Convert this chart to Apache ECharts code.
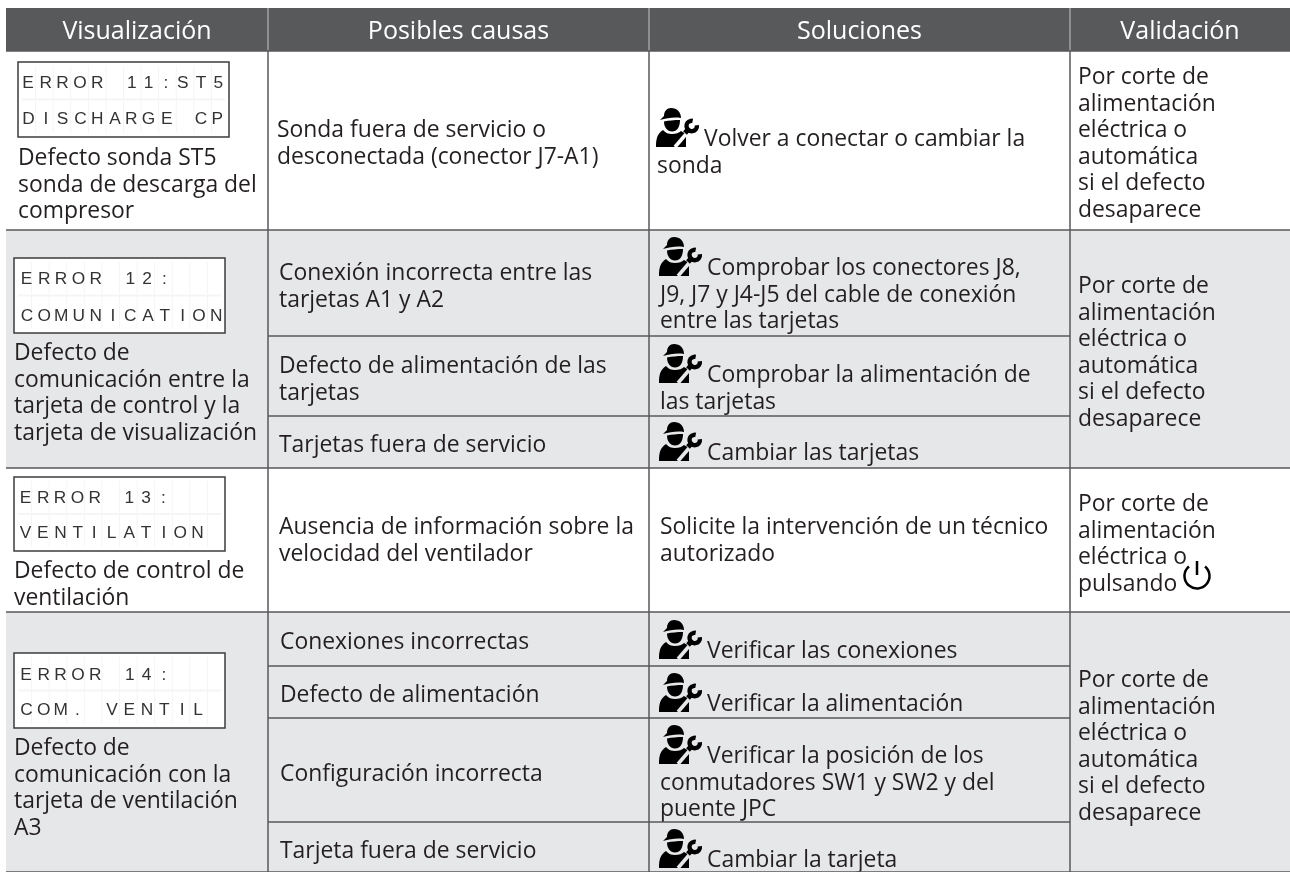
<!DOCTYPE html>
<html>
<head>
<meta charset="utf-8">
<style>
  html, body { margin: 0; padding: 0; background: #fff; }
  #chart { width: 1290px; height: 872px; }
</style>
<script src="https://cdn.jsdelivr.net/npm/echarts@6/dist/echarts.min.js"></script>
</head>
<body>
<div id="chart"></div>
<script>
// table content
const headers = ["Visualización", "Posibles causas", "Soluciones", "Validación"];
const lcdLines = [
  ["ERROR 11:ST5", "DISCHARGE CP"],
  ["ERROR 12:", "COMUNICATION"],
  ["ERROR 13:", "VENTILATION"],
  ["ERROR 14:", "COM. VENTIL"],
];
const faults = [
  ["Defecto sonda ST5", "sonda de descarga del", "compresor"],
  ["Defecto de", "comunicación entre la", "tarjeta de control y la", "tarjeta de visualización"],
  ["Defecto de control de", "ventilación"],
  ["Defecto de", "comunicación con la", "tarjeta de ventilación", "A3"],
];
const causes = [
  ["Sonda fuera de servicio o", "desconectada (conector J7-A1)"],
  ["Conexión incorrecta entre las", "tarjetas A1 y A2"],
  ["Defecto de alimentación de las", "tarjetas"],
  ["Tarjetas fuera de servicio"],
  ["Ausencia de información sobre la", "velocidad del ventilador"],
  ["Conexiones incorrectas"],
  ["Defecto de alimentación"],
  ["Configuración incorrecta"],
  ["Tarjeta fuera de servicio"],
];
const solutions = [
  ["Volver a conectar o cambiar la", "sonda"],
  ["Comprobar los conectores J8,", "J9, J7 y J4-J5 del cable de conexión", "entre las tarjetas"],
  ["Comprobar la alimentación de", "las tarjetas"],
  ["Cambiar las tarjetas"],
  ["Solicite la intervención de un técnico", "autorizado"],
  ["Verificar las conexiones"],
  ["Verificar la alimentación"],
  ["Verificar la posición de los", "conmutadores SW1 y SW2 y del", "puente JPC"],
  ["Cambiar la tarjeta"],
];
const solutionHasIcon = [true, true, true, true, false, true, true, true, true];
const validations = [
  ["Por corte de", "alimentación", "eléctrica o", "automática", "si el defecto", "desaparece"],
  ["Por corte de", "alimentación", "eléctrica o", "automática", "si el defecto", "desaparece"],
  ["Por corte de", "alimentación", "eléctrica o", "pulsando"],
  ["Por corte de", "alimentación", "eléctrica o", "automática", "si el defecto", "desaparece"],
];

// layout, in page pixels
const columnEdges = [6, 268, 649, 1070, 1290];
const headerTop = 8;
const headerBottom = 51;
const groupEdges = [51, 230, 468, 612, 872];
const subRowLines = [336, 416, 666, 718, 822];
const lcdBoxes = [[18, 62, 229, 137], [14, 258, 225, 333], [14, 477, 225, 551], [14, 653, 225, 728]];
const lcdFirstCentre = [28, 26.5, 25.5, 26];
const lcdBaselines = [[88, 124], [284, 321], [503, 538], [680, 715]];
const faultX = [18, 14, 14, 14];
const faultBaselines = [165, 360, 578, 755];
const causeX = [277, 279, 279, 279, 279, 280, 280, 280, 280];
const causeBaselines = [137, 280, 373, 452, 534, 649, 702, 781, 858];
const solutionX = [657, 660, 660, 660, 660, 660, 660, 660, 660];
const solutionBaselines = [146, 275, 382, 460, 534, 658, 711, 763, 867];
const validationX = 1078;
const validationBaselines = [84, 293, 511, 687];

const TEXT_FONT = '"Open Sans", sans-serif';
const TEXT_SIZE = 22.9;
const LINE_STEP = 26.5;
const LCD_FONT = '"Liberation Sans", sans-serif';
const LCD_SIZE = 16;
const LCD_STRETCH = 1.08;
const LCD_PITCH = 17.27;
const INK = "#231f20";
const DARK = "#58595b";
const GREY = "#e6e7e8";

// display glyphs sit on a fixed grid, so pad each one with hair spaces up to its cell
const measureCtx = document.createElement("canvas").getContext("2d");
function spaceToGrid(line) {
  measureCtx.font = `${LCD_SIZE}px ${LCD_FONT}`;
  const hair = measureCtx.measureText("\u200a").width;
  const pitch = LCD_PITCH / LCD_STRETCH;
  let out = "";
  let penX = 0;
  [...line].forEach((ch, i) => {
    const width = measureCtx.measureText(ch).width;
    const target = (i + 0.5) * pitch - width / 2;
    const pad = Math.max(0, Math.round((target - penX) / hair));
    out += "\u200a".repeat(pad) + ch;
    penX += pad * hair + width;
  });
  return out;
}

const cells = [];
const addRect = (x0, y0, x1, y1, fill, stroke, lineWidth) =>
  cells.push({ kind: "rect", x0, y0, x1, y1, fill, stroke, lineWidth });
const addLine = (x0, y0, x1, y1, stroke, lineWidth) =>
  cells.push({ kind: "line", x0, y0, x1, y1, stroke, lineWidth });
const addText = (x, y, text, opts) => cells.push({ kind: "text", x, y, text, ...opts });

// body fills
groupEdges.slice(1).forEach((bottom, i) => {
  addRect(columnEdges[0], groupEdges[i], 1290, bottom, i % 2 ? GREY : "#fff");
});

// header
addRect(columnEdges[0], headerTop, 1290, headerBottom, DARK);
headers.forEach((label, i) => {
  addText((columnEdges[i] + columnEdges[i + 1]) / 2, 39, label, { size: 25, fill: "#fff", align: "center" });
  if (i) addLine(columnEdges[i], headerTop, columnEdges[i], headerBottom, "#c4c5c7", 1);
});

// LCD displays
lcdBoxes.forEach((box, i) => {
  const [x0, y0, x1, y1] = box;
  addRect(x0, y0, x1, y1, "#fff");
  const pitch = (x1 - x0) / 12;
  const midY = (y0 + y1) / 2;
  for (let c = 1; c < 12; c++) addLine(x0 + c * pitch, y0 + 4, x0 + c * pitch, y1 - 4, "#f5f5f5", 1);
  addLine(x0 + 4, midY, x1 - 4, midY, "#f5f5f5", 2);
  addRect(x0, y0, x1, y1, null, "#3c3c3e", 1.5);
  lcdLines[i].forEach((line, l) => {
    addText(lcdFirstCentre[i] - LCD_PITCH / 2, lcdBaselines[i][l], spaceToGrid(line), {
      size: LCD_SIZE,
      font: LCD_FONT,
      fill: "#333",
      stretch: LCD_STRETCH,
    });
  });
});

// text columns
const addBlock = (x, firstBaseline, lines) =>
  lines.forEach((line, l) => addText(x, firstBaseline + l * LINE_STEP, line, {}));

faults.forEach((lines, i) => addBlock(faultX[i], faultBaselines[i], lines));
causes.forEach((lines, i) => addBlock(causeX[i], causeBaselines[i], lines));
validations.forEach((lines, i) => addBlock(validationX, validationBaselines[i], lines));
solutions.forEach((lines, i) => {
  const x = solutionX[i];
  const base = solutionBaselines[i];
  lines.forEach((line, l) => {
    const indent = l === 0 && solutionHasIcon[i] ? 47 : 0;
    addText(x + indent, base + l * LINE_STEP, line, {});
  });
  if (solutionHasIcon[i]) {
    cells.push({ kind: "worker", x: x - 1, y: base - 38, bg: i === 0 ? "#fff" : GREY });
  }
});
cells.push({ kind: "power", x: 1197, y: 576 });

// rules
subRowLines.forEach((y) => addLine(columnEdges[1], y, columnEdges[3], y, DARK, 1.5));
groupEdges.forEach((y) => addLine(columnEdges[0], y, 1290, y, DARK, 1.6));
columnEdges.slice(1, 4).forEach((x) => addLine(x, headerBottom, x, 872, DARK, 1.5));

function workerIcon(cell, x, y) {
  const black = { fill: "#000" };
  const stroke = (w) => ({ fill: null, stroke: "#000", lineWidth: w });
  return {
    type: "group",
    x,
    y,
    children: [
      { type: "path", shape: { pathData: "M4 12 L8 8 C8 3 11 0 15 0 C21 0 25 4 25 10 C18 9 11 10 4 12 Z" }, style: black },
      { type: "path", shape: { pathData: "M8 13.5 C13 12.5 18 12 24 12 C24 19 21 23.5 16 23.5 C11 23.5 8 19 8 13.5 Z" }, style: black },
      { type: "path", shape: { pathData: "M0 39 C0 31 1 26 7 22 C10 25 12 26 16 26 C20 26 23 25 25 23 L30 26 L30 39 Z" }, style: black },
      { type: "line", shape: { x1: 19, y1: 39, x2: 31, y2: 25 }, style: { stroke: cell.bg, lineWidth: 3.6 } },
      { type: "line", shape: { x1: 29, y1: 25, x2: 33.5, y2: 20 }, style: stroke(5) },
      {
        type: "arc",
        shape: { cx: 35.7, cy: 18, r: 5.2, startAngle: -0.15, endAngle: 4.9, clockwise: true },
        style: stroke(4.4),
      },
    ],
  };
}

function powerIcon(x, y) {
  const stroke = { fill: null, stroke: "#000", lineWidth: 2.5 };
  return {
    type: "group",
    x,
    y,
    children: [
      {
        type: "arc",
        shape: { cx: 0, cy: 0, r: 12.5, startAngle: (-50 * Math.PI) / 180, endAngle: (230 * Math.PI) / 180, clockwise: true },
        style: stroke,
      },
      { type: "line", shape: { x1: 0, y1: -15, x2: 0, y2: -1 }, style: stroke },
    ],
  };
}

function renderCell(params, api) {
  const cell = cells[params.dataIndex];
  if (cell.kind === "rect") {
    const [x0, y0] = api.coord([cell.x0, cell.y0]);
    const [x1, y1] = api.coord([cell.x1, cell.y1]);
    return {
      type: "rect",
      shape: { x: x0, y: y0, width: x1 - x0, height: y1 - y0 },
      style: { fill: cell.fill, stroke: cell.stroke || null, lineWidth: cell.lineWidth || 0 },
    };
  }
  if (cell.kind === "line") {
    const [x0, y0] = api.coord([cell.x0, cell.y0]);
    const [x1, y1] = api.coord([cell.x1, cell.y1]);
    return {
      type: "line",
      shape: { x1: x0, y1: y0, x2: x1, y2: y1 },
      style: { stroke: cell.stroke, lineWidth: cell.lineWidth },
    };
  }
  const [x, y] = api.coord([cell.x, cell.y]);
  if (cell.kind === "worker") return workerIcon(cell, x, y);
  if (cell.kind === "power") return powerIcon(x, y);
  const size = cell.size || TEXT_SIZE;
  return {
    type: "text",
    x,
    y: y - size * 0.28,
    scaleX: cell.stretch || 1,
    style: {
      text: cell.text,
      fill: cell.fill || INK,
      font: `${size}px ${cell.font || TEXT_FONT}`,
      align: cell.align || "left",
      verticalAlign: "middle",
    },
  };
}

const chart = echarts.init(document.getElementById("chart"));
chart.setOption({
  animation: false,
  backgroundColor: "#fff",
  grid: { left: 0, right: 0, top: 0, bottom: 0 },
  xAxis: { type: "value", min: 0, max: 1290, show: false },
  yAxis: { type: "value", min: 0, max: 872, inverse: true, show: false },
  series: [
    {
      type: "custom",
      coordinateSystem: "cartesian2d",
      silent: true,
      clip: false,
      data: cells.map((_, i) => [0, i]),
      renderItem: renderCell,
    },
  ],
});
</script>
</body>
</html>
